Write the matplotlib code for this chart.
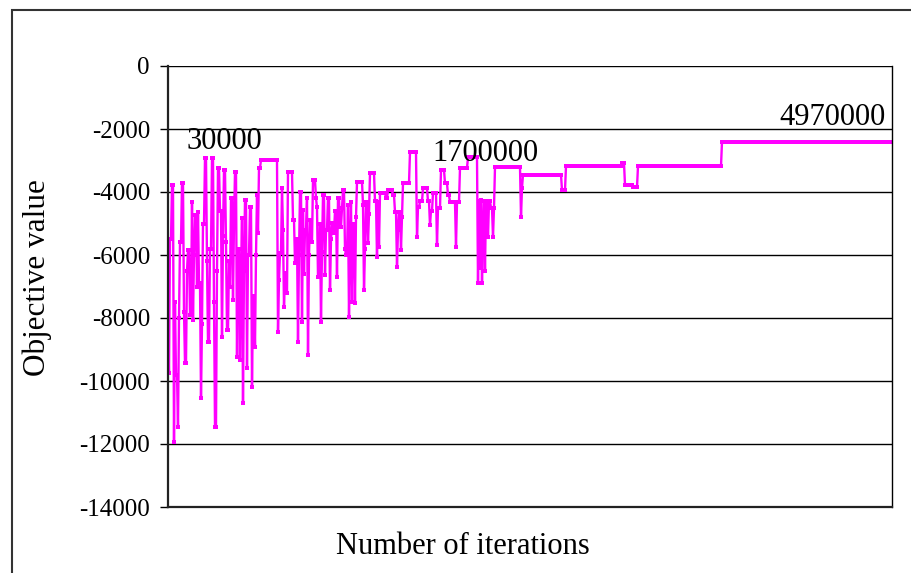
import numpy as np
import matplotlib
matplotlib.use("Agg")
import matplotlib.pyplot as plt
from matplotlib.patches import Rectangle

plt.rcParams['font.family'] = ['Liberation Serif', 'DejaVu Serif']
plt.rcParams['axes.unicode_minus'] = False

# sample index where a new objective value starts, and that value
step_start = [0, 1, 2, 4, 6, 7, 8, 10, 11, 12, 14, 16, 17, 19, 20, 22, 24, 25, 26, 27,
              29, 30, 31, 33, 34, 35, 37, 39, 40, 42, 44, 46, 47, 49, 50, 52, 54, 55, 56, 58,
              59, 61, 62, 63, 65, 66, 67, 69, 70, 72, 73, 74, 75, 76, 77, 79, 80, 82, 84, 85,
              87, 88, 89, 90, 91, 93, 110, 111, 112, 114, 115, 116, 117, 118, 120, 125, 127, 129, 130, 131,
              132, 134, 135, 136, 137, 139, 140, 141, 142, 143, 145, 148, 149, 150, 152, 153, 154, 155, 157, 158,
              160, 162, 163, 164, 166, 167, 169, 170, 172, 174, 175, 177, 178, 180, 181, 182, 183, 184, 185, 187,
              188, 189, 195, 196, 197, 198, 200, 201, 202, 207, 209, 210, 211, 212, 218, 220, 225, 227, 229, 230,
              231, 233, 234, 235, 242, 249, 250, 252, 255, 260, 262, 263, 265, 269, 270, 273, 277, 280, 282, 288,
              289, 292, 300, 310, 311, 312, 313, 314, 315, 316, 317, 318, 320, 321, 323, 325, 326, 327, 353, 354,
              355, 394, 398, 454, 457, 465, 470, 554]
step_value = [-8300, -9750, -5500, -3780, -11940, -7500, -9800, -11460, -8000, -5600,
              -3720, -7800, -9430, -6500, -5840, -7900, -4320, -8060, -6000, -4730,
              -7000, -4630, -6900, -10540, -8200, -5000, -2920, -6200, -8760, -5800,
              -2920, -7500, -11460, -6500, -3240, -4600, -8600, -5400, -3300, -5600,
              -8380, -6200, -7010, -4200, -7430, -5000, -3360, -9240, -5800, -9330,
              -6800, -4830, -10700, -6500, -4250, -9590, -6000, -4480, -10190, -7300,
              -8920, -6000, -4100, -5300, -3240, -2980, -8440, -6800, -5940, -3880,
              -5200, -7650, -6570, -7200, -3360, -4890, -6250, -5500, -8760, -6000,
              -4000, -8130, -4570, -6600, -5200, -4190, -9170, -6000, -4890, -5600,
              -3620, -4200, -4480, -6700, -5000, -8130, -5900, -4100, -6630, -5200,
              -4190, -7110, -5500, -4990, -5300, -4600, -6700, -4190, -5100, -4500,
              -3940, -5800, -6000, -4400, -7970, -5600, -4320, -7490, -5000, -7520,
              -4800, -3680, -4400, -7110, -5800, -4320, -5620, -4700, -3400, -4300,
              -6060, -4320, -5740, -4030, -4190, -3940, -4100, -4630, -6380, -5200,
              -4630, -5840, -4800, -3720, -2730, -5430, -4480, -4300, -3880, -4300,
              -5050, -4600, -4030, -5680, -4500, -3300, -3720, -4100, -4320, -5740,
              -4320, -3240, -2900, -6900, -4300, -6400, -4250, -6900, -5000, -4300,
              -6500, -4300, -5430, -4300, -4500, -5430, -4510, -3200, -4800, -3870,
              -3450, -3940, -3180, -3080, -3780, -3850, -3180, -2410]
n_samples = 725

# iteration counts written over the curve
label_text = ['30000', '1700000', '4970000']

run_len = np.diff(step_start + [n_samples])
obj = np.repeat(step_value, run_len)
idx = np.arange(n_samples)

fig = plt.figure(figsize=(9.12, 5.73), dpi=100)
ax = fig.add_axes([168 / 912, 66 / 573, 724 / 912, 441 / 573])

ax.plot(idx, obj, color='#ff00ff', lw=1.7, marker='s', markersize=3,
        markeredgewidth=0, solid_joinstyle='miter')

ax.set_xlim(0, n_samples - 1)
ax.set_ylim(-14000, 0)
ax.set_yticks(np.arange(-14000, 1, 2000))
ax.set_xticks([])
ax.yaxis.grid(True, color='black', lw=1)
ax.set_axisbelow(True)
ax.tick_params(axis='y', direction='out', length=6, width=1, pad=7, labelsize=18)
for s in ['left', 'bottom']:
    ax.spines[s].set_linewidth(1.6)
    ax.spines[s].set_color('#222222')
ax.spines['top'].set_visible(False)
ax.spines['right'].set_linewidth(1)

ax.text(56, -2400, label_text[0], fontsize=22, ha='center', va='center')
ax.text(317, -2780, label_text[1], fontsize=22, ha='center', va='center')
ax.text(665, -1620, label_text[2], fontsize=22, ha='center', va='center')

fig.text(463 / 912, 1 - 547 / 573, 'Number of iterations', fontsize=22,
         ha='center', va='center')
fig.text(37 / 912, 1 - 278 / 573, 'Objective value', fontsize=22.5,
         ha='center', va='center', rotation=90)

fig.add_artist(Rectangle((12 / 912, -0.1), 1.2, 1.1 - 10 / 573, transform=fig.transFigure,
                         fill=False, lw=1.5, ec='#333333'))

fig.savefig('out.png', dpi=100)
